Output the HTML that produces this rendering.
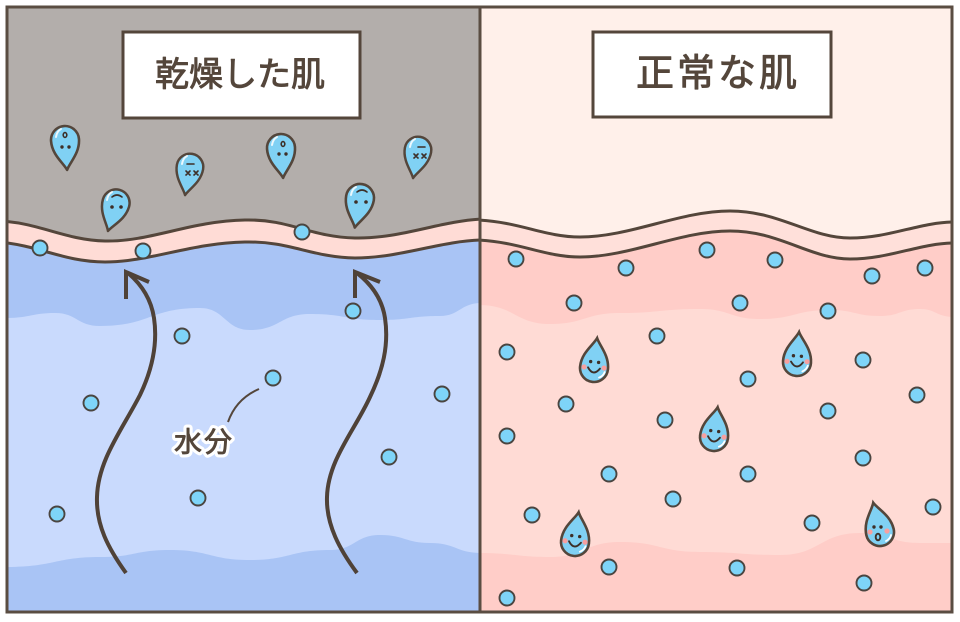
<!DOCTYPE html>
<html><head><meta charset="utf-8"><style>
html,body{margin:0;padding:0;background:#fff;}
svg{display:block;}
text{font-family:"Liberation Sans","Noto Sans CJK JP",sans-serif;}
</style></head><body>
<svg width="960" height="622" viewBox="0 0 960 622" xmlns="http://www.w3.org/2000/svg">
<defs>
<clipPath id="cl"><rect x="7" y="7" width="473" height="605"/></clipPath>
<clipPath id="cr"><rect x="480" y="7" width="472" height="605"/></clipPath>
<path id="drop" d="M0,-30 C3,-23 14,-14 14,0 A14,14 0 0 1 -14,0 C-14,-14 -3,-23 0,-30 Z"/>
</defs>
<rect width="960" height="622" fill="#fff"/>

<!-- LEFT PANEL -->
<g clip-path="url(#cl)">
<rect x="0" y="0" width="482" height="622" fill="#b3aeab"/>
<path d="M0,221 C40,223 65,240 105,241 C150,242 190,221 245,220 C290,219 310,237 355,238 C400,239 440,221 482,219 L482,622 L0,622 Z" fill="#ffdcd6"/>
<path d="M0,242 C40,246 65,262 105,262 C150,262 190,243 245,242 C290,241 310,257 355,258 C400,258 440,241 482,240 L482,622 L0,622 Z" fill="#a9c4f5"/>
<path d="M5,318 C31,318 31,313 55,313 C77,313 77,326 100,326 C150,326 150,308 200,308 C225,308 225,330 250,330 C280,330 280,314 310,314 C345,314 345,320 380,320 C410,320 410,316 440,316 C460,316 460,303 482,303 L482,553 C456,553 456,543 430,543 C405,543 405,535 380,535 C355,535 355,550 330,550 C290,550 290,560 250,560 C210,560 210,550 170,550 C135,550 135,557 100,557 C55,557 55,567 5,567 Z" fill="#c9dafd"/>
<path d="M0,221 C40,223 65,240 105,241 C150,242 190,221 245,220 C290,219 310,237 355,238 C400,239 440,221 482,219" fill="none" stroke="#54463b" stroke-width="3"/>
<path d="M0,242 C40,246 65,262 105,262 C150,262 190,243 245,242 C290,241 310,257 355,258 C400,258 440,241 482,240" fill="none" stroke="#54463b" stroke-width="3"/>
</g>

<!-- RIGHT PANEL -->
<g clip-path="url(#cr)">
<rect x="478" y="0" width="482" height="622" fill="#fff0ea"/>
<path d="M478,220 C520,222 545,237 580,237 C630,237 680,211 730,211 C780,211 810,238 850,238 C890,238 920,222 955,222 L955,622 L478,622 Z" fill="#ffe0da"/>
<path d="M478,240 C520,242 545,257 580,257 C630,257 680,231 730,231 C780,231 810,259 850,259 C890,259 920,243 955,243 L955,622 L478,622 Z" fill="#ffcdc8"/>
<path d="M478,305 C515,305 515,324 550,324 C585,324 585,313 620,313 C660,313 660,309 700,309 C730,309 730,319 760,319 C795,319 795,310 830,310 C855,310 855,316 880,316 C900,316 900,309 920,309 C936,309 936,317 955,317 L955,543 C936,543 936,543 920,543 C890,543 890,533 860,533 C820,533 820,555 780,555 C740,555 740,552 700,552 C660,552 660,542 620,542 C585,542 585,557 550,557 C515,557 515,553 478,553 Z" fill="#ffdbd5"/>
<path d="M478,220 C520,222 545,237 580,237 C630,237 680,211 730,211 C780,211 810,238 850,238 C890,238 920,222 955,222" fill="none" stroke="#54463b" stroke-width="3"/>
<path d="M478,240 C520,242 545,257 580,257 C630,257 680,231 730,231 C780,231 810,259 850,259 C890,259 920,243 955,243" fill="none" stroke="#54463b" stroke-width="3"/>
</g>

<!-- Title boxes -->
<rect x="123" y="32" width="237" height="86" fill="#fff" stroke="#54463b" stroke-width="3"/>
<text x="240" y="75" font-size="34" text-anchor="middle" dominant-baseline="central" fill="#54463b" stroke="#54463b" stroke-width="0.9" stroke-linejoin="round">乾燥した肌</text>
<rect x="593" y="32" width="238" height="85" fill="#fff" stroke="#54463b" stroke-width="3"/>
<text x="718" y="74" font-size="38" letter-spacing="3" text-anchor="middle" dominant-baseline="central" fill="#54463b" stroke="#54463b" stroke-width="0.9" stroke-linejoin="round">正常な肌</text>

<!-- Left dots -->
<g fill="#7ed4f8" stroke="#4a4540" stroke-width="1.9">
<circle cx="40" cy="248" r="7.5"/><circle cx="143" cy="251" r="7.5"/><circle cx="302" cy="232" r="7.5"/>
<circle cx="353" cy="311" r="7.5"/><circle cx="182" cy="336" r="7.5"/><circle cx="273" cy="378" r="7.5"/>
<circle cx="91" cy="403" r="7.5"/><circle cx="442" cy="394" r="7.5"/><circle cx="389" cy="457" r="7.5"/>
<circle cx="198" cy="498" r="7.5"/><circle cx="57" cy="514" r="7.5"/>
</g>

<!-- Right dots -->
<g fill="#7ed4f8" stroke="#4a4540" stroke-width="1.9">
<circle cx="516" cy="259" r="7.5"/><circle cx="626" cy="268" r="7.5"/><circle cx="707" cy="250" r="7.5"/>
<circle cx="775" cy="260" r="7.5"/><circle cx="872" cy="276" r="7.5"/><circle cx="925" cy="268" r="7.5"/>
<circle cx="574" cy="303" r="7.5"/><circle cx="740" cy="303" r="7.5"/><circle cx="828" cy="311" r="7.5"/>
<circle cx="657" cy="336" r="7.5"/><circle cx="507" cy="352" r="7.5"/><circle cx="863" cy="360" r="7.5"/>
<circle cx="748" cy="379" r="7.5"/><circle cx="917" cy="395" r="7.5"/><circle cx="566" cy="404" r="7.5"/>
<circle cx="828" cy="411" r="7.5"/><circle cx="665" cy="420" r="7.5"/><circle cx="507" cy="436" r="7.5"/>
<circle cx="863" cy="458" r="7.5"/><circle cx="609" cy="474" r="7.5"/><circle cx="748" cy="474" r="7.5"/>
<circle cx="673" cy="499" r="7.5"/><circle cx="933" cy="507" r="7.5"/><circle cx="532" cy="515" r="7.5"/>
<circle cx="812" cy="523" r="7.5"/><circle cx="609" cy="567" r="7.5"/><circle cx="737" cy="568" r="7.5"/>
<circle cx="864" cy="583" r="7.5"/><circle cx="507" cy="598" r="7.5"/>
</g>

<!-- Arrows -->
<g fill="none" stroke="#4f4238" stroke-width="4">
<path d="M126,573 C108,548 96,525 97,497 C98,460 122,430 140,395 C152,370 158,345 154,318 C151,298 141,284 128,273"/>
<path d="M126,299 L126,272 L149,282"/>
<path d="M357,573 C340,550 326,525 327,497 C328,460 355,430 370,397 C383,370 389,345 385,318 C382,298 371,284 357,273"/>
<path d="M355,298 L355,272 L380,282"/>
</g>

<!-- Leader + label -->
<path d="M228,422 C234,405 245,395 259,389" fill="none" stroke="#54463b" stroke-width="2"/>
<text x="204" y="442" font-size="28" text-anchor="middle" dominant-baseline="central" fill="#54463b" stroke="#fff" stroke-width="7" stroke-linejoin="round" paint-order="stroke" letter-spacing="2">水分</text>
<text x="204" y="442" font-size="28" text-anchor="middle" dominant-baseline="central" fill="#54463b" stroke="#54463b" stroke-width="0.8" stroke-linejoin="round" letter-spacing="2">水分</text>

<!-- Sad drops (left) -->
<g fill="#80d1f4" stroke="#54463b" stroke-width="2.6" stroke-linejoin="round">
<use href="#drop" transform="translate(65,140) rotate(176)"/>
<use href="#drop" transform="translate(116,203) rotate(196) scale(0.97)"/>
<use href="#drop" transform="translate(190,167) rotate(190) scale(0.95)"/>
<use href="#drop" transform="translate(281,148) rotate(176)"/>
<use href="#drop" transform="translate(360,198) rotate(190)"/>
<use href="#drop" transform="translate(418,150) rotate(190) scale(0.95)"/>
</g>
<g fill="none" stroke="#fff" stroke-width="2" stroke-linecap="round" opacity="0.85">
<path d="M56,137 Q57,131 61,129"/>
<path d="M107,200 Q108,194 112,192"/>
<path d="M182,164 Q183,158 187,156"/>
<path d="M272,145 Q273,139 277,137"/>
<path d="M351,195 Q352,189 356,187"/>
<path d="M410,147 Q411,141 415,139"/>
</g>
<g fill="#3d2f28">
<circle cx="62" cy="147" r="1.7"/><circle cx="69" cy="147" r="1.7"/>
<circle cx="279" cy="154" r="1.7"/><circle cx="286" cy="154" r="1.7"/>
<circle cx="112" cy="207" r="1.8"/><circle cx="121" cy="207" r="1.8"/>
<circle cx="356" cy="202" r="1.8"/><circle cx="366" cy="202" r="1.8"/>
</g>
<g fill="none" stroke="#3d2f28" stroke-width="1.6" stroke-linecap="round">
<ellipse cx="65" cy="135" rx="1.8" ry="2.4"/>
<ellipse cx="283" cy="144" rx="1.8" ry="2.4"/>
<path d="M112,197 Q117,193 122,197"/>
<path d="M357,192 Q362,188 367,192"/>
<path d="M187,164 L194,164"/>
<path d="M186,171 L190,175 M190,171 L186,175 M194,171 L198,175 M198,171 L194,175"/>
<path d="M418,147 L425,147"/>
<path d="M414,154 L418,158 M418,154 L414,158 M422,154 L426,158 M426,154 L422,158"/>
</g>

<!-- Happy drops (right) -->
<g stroke-linecap="round">
<g transform="translate(594,368) rotate(6)">
<use href="#drop" fill="#80d1f4" stroke="#54463b" stroke-width="2.6"/>
<circle cx="-10" cy="0" r="2.6" fill="#f7a0a0"/><circle cx="10" cy="-1" r="2.6" fill="#f7a0a0"/>
<circle cx="-4" cy="-6" r="1.7" fill="#3d2f28"/><circle cx="4" cy="-6" r="1.7" fill="#3d2f28"/>
<path d="M-6,0 Q0,9 6,0" fill="none" stroke="#3d2f28" stroke-width="1.9"/>
<path d="M6,9 Q10,7 11,3" fill="none" stroke="#fff" stroke-width="1.8"/>
</g>
<g transform="translate(797,362) rotate(4)">
<use href="#drop" fill="#80d1f4" stroke="#54463b" stroke-width="2.6"/>
<circle cx="-10" cy="0" r="2.6" fill="#f7a0a0"/><circle cx="10" cy="-1" r="2.6" fill="#f7a0a0"/>
<circle cx="-4" cy="-6" r="1.7" fill="#3d2f28"/><circle cx="4" cy="-6" r="1.7" fill="#3d2f28"/>
<path d="M-6,0 Q0,9 6,0" fill="none" stroke="#3d2f28" stroke-width="1.9"/>
<path d="M6,9 Q10,7 11,3" fill="none" stroke="#fff" stroke-width="1.8"/>
</g>
<g transform="translate(714,437) rotate(7)">
<use href="#drop" fill="#80d1f4" stroke="#54463b" stroke-width="2.6"/>
<circle cx="-10" cy="0" r="2.6" fill="#f7a0a0"/><circle cx="10" cy="-1" r="2.6" fill="#f7a0a0"/>
<circle cx="-4" cy="-6" r="1.7" fill="#3d2f28"/><circle cx="4" cy="-6" r="1.7" fill="#3d2f28"/>
<path d="M-6,0 Q0,9 6,0" fill="none" stroke="#3d2f28" stroke-width="1.9"/>
<path d="M6,9 Q10,7 11,3" fill="none" stroke="#fff" stroke-width="1.8"/>
</g>
<g transform="translate(575,542) rotate(7)">
<use href="#drop" fill="#80d1f4" stroke="#54463b" stroke-width="2.6"/>
<circle cx="-10" cy="0" r="2.6" fill="#f7a0a0"/><circle cx="10" cy="-1" r="2.6" fill="#f7a0a0"/>
<circle cx="-4" cy="-6" r="1.7" fill="#3d2f28"/><circle cx="4" cy="-6" r="1.7" fill="#3d2f28"/>
<path d="M-6,0 Q0,9 6,0" fill="none" stroke="#3d2f28" stroke-width="1.9"/>
<path d="M6,9 Q10,7 11,3" fill="none" stroke="#fff" stroke-width="1.8"/>
</g>
<g transform="translate(880,532) rotate(-13)">
<use href="#drop" fill="#80d1f4" stroke="#54463b" stroke-width="2.6"/>
</g>
<circle cx="870" cy="532" r="2.6" fill="#f7a0a0"/><circle cx="887" cy="531" r="2.6" fill="#f7a0a0"/>
<circle cx="874" cy="527" r="1.7" fill="#3d2f28"/><circle cx="881" cy="527" r="1.7" fill="#3d2f28"/>
<ellipse cx="878" cy="537" rx="2.3" ry="3.3" fill="none" stroke="#3d2f28" stroke-width="1.9"/>
<path d="M886,541 Q890,539 891,535" fill="none" stroke="#fff" stroke-width="1.8"/>
</g>

<!-- Frame -->
<rect x="7" y="7" width="945" height="605" fill="none" stroke="#5a4d42" stroke-width="3"/>
<line x1="480" y1="7" x2="480" y2="612" stroke="#5a4d42" stroke-width="3"/>
</svg>
</body></html>
